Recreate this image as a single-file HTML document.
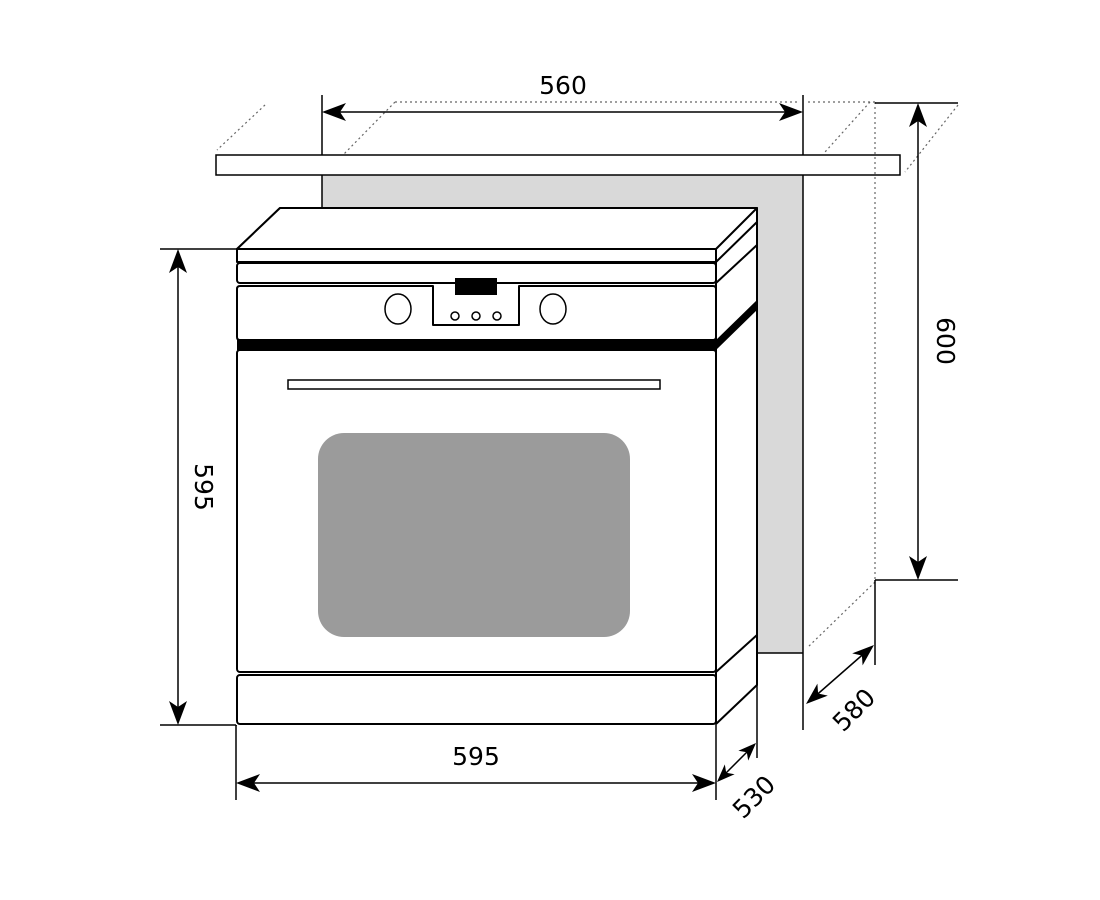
<!DOCTYPE html>
<html><head><meta charset="utf-8"><style>html,body{margin:0;padding:0;background:#fff}svg{display:block}</style></head>
<body>
<svg width="1100" height="900" viewBox="0 0 1100 900" xmlns="http://www.w3.org/2000/svg" font-family="'DejaVu Sans','Liberation Sans',sans-serif">
<rect x="322" y="175" width="481" height="478" fill="#d9d9d9"/>
<g stroke="#000" stroke-width="1.5" fill="none">
<line x1="322" y1="95" x2="322" y2="208"/>
<line x1="803" y1="95" x2="803" y2="730"/>
<line x1="757" y1="653" x2="803" y2="653"/>
<rect x="216" y="155" width="684" height="20" fill="#fff"/>
</g>
<g stroke="#666" stroke-width="1.2" stroke-dasharray="2,3" fill="none">
<line x1="395" y1="102" x2="800" y2="102"/>
<line x1="808" y1="102" x2="875" y2="102"/>
<line x1="265" y1="105" x2="217" y2="150"/>
<line x1="395" y1="102" x2="343" y2="155"/>
<line x1="870" y1="102" x2="825" y2="152"/>
<line x1="958" y1="105" x2="905" y2="172"/>
<line x1="875" y1="102" x2="875" y2="580"/>
<line x1="875" y1="582" x2="807" y2="648"/>
</g>
<g stroke="#000" stroke-width="1.5" fill="none">
<line x1="875" y1="103" x2="958" y2="103"/>
<line x1="875" y1="580" x2="958" y2="580"/>
<line x1="875" y1="580" x2="875" y2="665"/>
<line x1="757" y1="680" x2="757" y2="758"/>
<line x1="160" y1="249" x2="237" y2="249"/>
<line x1="160" y1="725" x2="237" y2="725"/>
<line x1="236" y1="725" x2="236" y2="800"/>
<line x1="716" y1="725" x2="716" y2="800"/>
<line x1="330" y1="112" x2="795" y2="112"/>
<line x1="918" y1="110" x2="918" y2="573"/>
<line x1="178" y1="256" x2="178" y2="718"/>
<line x1="242" y1="783" x2="710" y2="783"/>
<line x1="812" y1="699" x2="868" y2="650"/>
<line x1="722" y1="777" x2="751" y2="748"/>
</g>
<g fill="#000">
<polygon points="322,112 346,103 340,112 346,121"/>
<polygon points="803,112 779,103 785,112 779,121"/>
<polygon points="918,103 909,127 918,121 927,127"/>
<polygon points="918,580 909,556 918,562 927,556"/>
<polygon points="178,249 169,273 178,267 187,273"/>
<polygon points="178,725 169,701 178,707 187,701"/>
<polygon points="236,783 260,774 254,783 260,792"/>
<polygon points="716,783 692,774 698,783 692,792"/>
<polygon points="874,645 862.6,665.4 861.9,655.5 852.2,653.4"/>
<polygon points="806,704 817.4,683.6 818.1,693.5 827.8,695.6"/>
<polygon points="756,743 748.2,760.6 746.8,752.2 738.4,750.8"/>
<polygon points="717,782 724.8,764.4 726.2,772.8 734.6,774.2"/>
</g>
<rect x="236" y="249" width="481" height="476" fill="#fff"/>
<g stroke="#000" stroke-width="2" fill="#fff" stroke-linejoin="round">
<path d="M237,249 L280,208 L757,208 L757,685 L716,724 L716,249 Z"/>
<path d="M237,249 L280,208 L757,208 L716,249 Z"/>
<rect x="237" y="249" width="479" height="13"/>
<rect x="237" y="263" width="479" height="20" rx="3"/>
<path d="M240,286 L433,286 L433,325 L519,325 L519,286 L713,286 Q716,286 716,289 L716,337 Q716,340 713,340 L240,340 Q237,340 237,337 L237,289 Q237,286 240,286 Z"/>
<rect x="237" y="350" width="479" height="322" rx="3"/>
<rect x="237" y="675" width="479" height="49" rx="3"/>
<line x1="716" y1="262" x2="757" y2="222"/>
<line x1="716" y1="283" x2="757" y2="245"/>
<line x1="716" y1="672" x2="757" y2="635"/>
<line x1="757" y1="208" x2="757" y2="685"/>
</g>
<path d="M237,340 L716,340 L757,300 L757,310 L716,350 L237,350 Z" fill="#000"/>
<rect x="455" y="278" width="42" height="17" fill="#000"/>
<g stroke="#000" stroke-width="1.5" fill="#fff">
<ellipse cx="398" cy="309" rx="13" ry="15"/>
<ellipse cx="553" cy="309" rx="13" ry="15"/>
<circle cx="455" cy="316" r="4"/>
<circle cx="476" cy="316" r="4"/>
<circle cx="497" cy="316" r="4"/>
<rect x="288" y="380" width="372" height="9"/>
</g>
<rect x="318" y="433" width="312" height="204" rx="26" fill="#9b9b9b"/>
<g font-size="25" fill="#000" text-anchor="middle">
<text x="563" y="94">560</text>
<text x="476" y="765">595</text>
<text transform="translate(195,487) rotate(90)">595</text>
<text transform="translate(937,341) rotate(90)">600</text>
<text transform="translate(860,716) rotate(-45)">580</text>
<text transform="translate(760,803) rotate(-45)">530</text>
</g>
</svg>
</body></html>
